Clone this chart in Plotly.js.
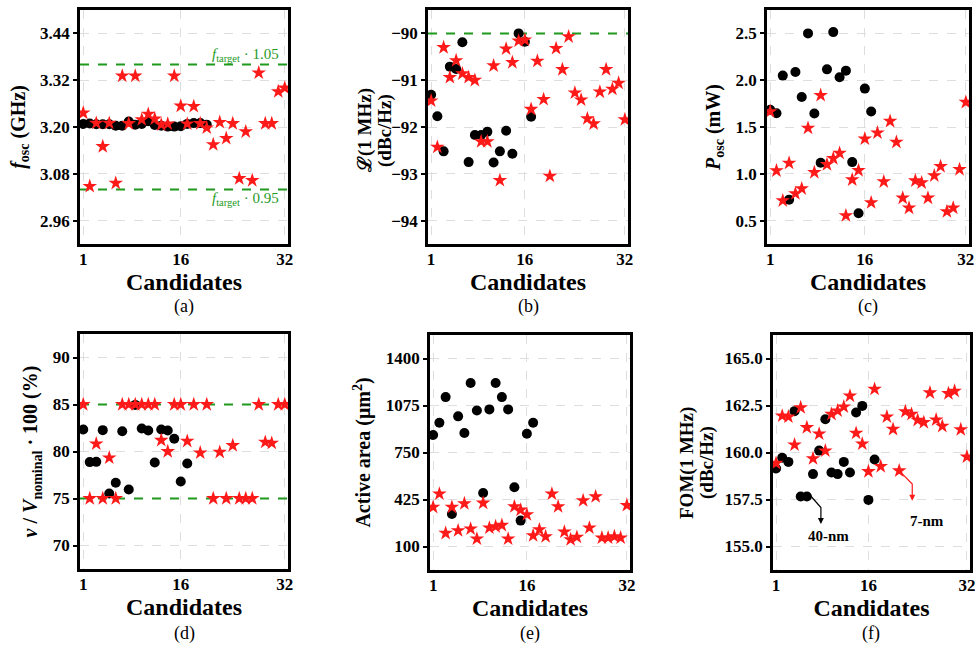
<!DOCTYPE html>
<html>
<head>
<meta charset="utf-8">
<script src="https://cdn.plot.ly/plotly-3.0.1.min.js"></script>
<style>html,body{margin:0;padding:0;background:#fff;}#chart{width:975px;height:645px;}</style>
</head>
<body>
<div id="chart"></div>
<script>
// ---- Data ----
const idx20 = [1,2,3,4,5,6,7,8,9,10,11,12,13,14,15,16,17,18,19,20];
const idx17 = [1,2,3,4,5,6,7,8,9,10,11,12,13,14,15,16,17];
const idx32 = [1,2,3,4,5,6,7,8,9,10,11,12,13,14,15,16,17,18,19,20,21,22,23,24,25,26,27,28,29,30,31,32];
const xTicks = [1,16,32];

const fTarget = 3.2;
const fLimits = [1.05, 0.95];
const fosc40 = [3.208,3.209,3.207,3.207,3.207,3.203,3.203,3.214,3.206,3.208,3.215,3.205,3.203,3.201,3.201,3.202,3.208,3.210,3.210,3.206];
const fosc7 = [3.236,3.048,3.210,3.150,3.210,3.056,3.331,3.209,3.331,3.219,3.233,3.221,3.206,3.208,3.331,3.254,3.208,3.253,3.209,3.198,3.155,3.212,3.171,3.209,3.068,3.188,3.063,3.339,3.209,3.209,3.291,3.300];

const pnLimit = -90;
const pn40 = [-91.31,-91.77,-92.52,-90.71,-90.76,-90.19,-92.75,-92.17,-92.17,-92.10,-92.76,-92.52,-92.08,-92.57,-90.00,-90.18,-91.78];
const pn7 = [-91.44,-92.43,-90.30,-90.94,-90.58,-90.86,-90.94,-91.00,-92.31,-92.31,-90.69,-93.14,-90.33,-90.62,-90.16,-90.14,-91.62,-90.59,-91.41,-93.05,-90.32,-90.77,-90.07,-91.27,-91.42,-91.82,-91.93,-91.25,-90.77,-91.19,-91.06,-91.84];

const posc40 = [1.683,1.647,2.049,0.724,2.088,1.821,2.500,1.644,1.118,2.116,2.514,2.031,2.102,1.125,0.578,1.910,1.665];
const posc7 = [1.665,1.033,0.713,1.115,0.788,0.841,1.488,1.015,1.839,1.100,1.164,1.221,0.553,0.937,1.036,1.374,0.692,1.438,0.916,1.562,1.338,0.742,0.635,0.926,0.905,0.742,0.980,1.079,0.596,0.635,1.047,1.765];

const swingLimits = [85, 75];
const swing40 = [82.34,78.87,78.90,82.27,75.53,76.67,82.16,75.96,84.96,82.45,82.23,78.83,82.34,82.23,81.35,76.81,78.72];
const swing7 = [85,75,80.82,75,79.33,75,85,85,85,85,85,85,81.2,80.0,85,85,81.1,85,79.86,85,75,79.93,75,80.64,75,75,75,85,81.0,80.89,85,85];

const area40 = [871,956,1133,325,1000,885,1230,1041,470,1048,1230,1133,1048,510,279,880,956];
const area7 = [372,464,192,372,210,397,222,153,401,229,238,247,153,376,353,321,176,217,169,464,376,201,148,165,418,229,445,160,160,169,160,385];

const fom40 = [159.15,159.72,159.50,162.20,157.66,157.66,158.85,160.10,161.77,158.94,158.85,159.50,158.94,162.13,162.48,157.48,159.63];
const fom7 = [159.43,161.95,161.90,160.41,162.39,161.33,159.68,160.99,160.09,162.04,162.22,162.43,163.01,161.03,160.46,158.99,163.37,159.26,161.90,161.24,159.03,162.18,162.04,161.72,161.60,163.18,161.74,161.40,163.14,163.27,161.22,159.77];

const yTicksA = [2.96,3.08,3.20,3.32,3.44];
const yTicksB = [-94,-93,-92,-91,-90];
const yTicksC = [0.5,1.0,1.5,2.0,2.5];
const yTicksD = [70,75,80,85,90];
const yTicksE = [100,425,750,1075,1400];
const yTicksF = [155.0,157.5,160.0,162.5,165.0];

// ---- Styling ----
const FONT = 'Liberation Serif, Times New Roman, serif';
const GREEN = '#1f9a1f';
const RED = '#ff1a1a';
const blackM = {color:'black', size:10, symbol:'circle'};
const redM = {color:RED, size:11, symbol:'star', line:{width:0}};

function pair(n, x40, y40, y7) {
  const xa = n === 1 ? 'x' : 'x' + n, ya = n === 1 ? 'y' : 'y' + n;
  return [
    {x:x40, y:y40, xaxis:xa, yaxis:ya, type:'scatter', mode:'markers', marker:blackM, showlegend:false},
    {x:idx32, y:y7, xaxis:xa, yaxis:ya, type:'scatter', mode:'markers', marker:redM, showlegend:false}
  ];
}
function hline(n, yval) {
  const xa = n === 1 ? 'x' : 'x' + n, ya = n === 1 ? 'y' : 'y' + n;
  return {x:[0.5,32.5], y:[yval,yval], xaxis:xa, yaxis:ya, type:'scatter', mode:'lines',
          line:{color:GREEN, width:2, dash:'dash'}, showlegend:false, hoverinfo:'skip'};
}
const data = [
  hline(1, fTarget*fLimits[0]), hline(1, fTarget*fLimits[1]),
  hline(2, pnLimit),
  hline(4, swingLimits[0]), hline(4, swingLimits[1])
].concat(
  pair(1, idx20, fosc40, fosc7),
  pair(2, idx17, pn40, pn7),
  pair(3, idx17, posc40, posc7),
  pair(4, idx17, swing40, swing7),
  pair(5, idx17, area40, area7),
  pair(6, idx17, fom40, fom7)
);

function xAx(domain, anchor) {
  return {
    domain:domain, anchor:anchor, range:[0.5,32.5], tickvals:xTicks,
    showline:true, mirror:true, linecolor:'black', linewidth:2.5,
    showgrid:true, gridcolor:'#dedede', griddash:'dash', gridwidth:1, zeroline:false,
    ticks:'', ticklabelstandoff:-2, ticklabeloverflow:'allow',
    tickfont:{family:FONT, size:17, color:'black', weight:'bold'},
    title:{text:'<b>Candidates</b>', font:{family:FONT, size:24, color:'black'}, standoff:0}
  };
}
function yAx(domain, anchor, range, tickvals, fmt, title, standoff) {
  const ax = {
    domain:domain, anchor:anchor, range:range, tickvals:tickvals, tickformat:fmt,
    showline:true, mirror:true, linecolor:'black', linewidth:2.5,
    showgrid:true, gridcolor:'#dedede', griddash:'dash', gridwidth:1, zeroline:false,
    ticks:'outside', ticklen:4, tickwidth:1.5, tickcolor:'black',
    tickfont:{family:FONT, size:17, color:'black', weight:'bold'}
  };
  if (title) ax.title = {text:title, font:{family:FONT, size:20, color:'black'}, standoff:standoff};
  return ax;
}
const W = 975, H = 645;
const px = (a,b) => [a/W, b/W];
const py = (top,bot) => [1-bot/H, 1-top/H];

function vtitle(xpx, ypx, text) {
  return {xref:'paper', yref:'paper', x:xpx/W, y:1-ypx/H, xanchor:'center', yanchor:'middle',
          textangle:-90, showarrow:false, text:text, font:{family:FONT, size:19, color:'black'}};
}
function label(xpx, ypx, text) {
  return {xref:'paper', yref:'paper', x:xpx/W, y:1-ypx/H, xanchor:'center', yanchor:'middle',
          showarrow:false, text:text, font:{family:FONT, size:18, color:'black'}};
}

const layout = {
  width:W, height:H, margin:{l:0,r:0,t:0,b:0},
  paper_bgcolor:'white', plot_bgcolor:'white', showlegend:false,
  font:{family:FONT, color:'black'},
  xaxis: xAx(px(80,288),'y'),
  yaxis: yAx(py(10,244),'x',[2.90,3.50],yTicksA,'.2f','<b><i>f</i><sub>osc</sub> (GHz)</b>',10),
  xaxis2: xAx(px(428,628),'y2'),
  yaxis2: yAx(py(10,244),'x2',[-94.5,-89.5],yTicksB,'d',null,8),
  xaxis3: xAx(px(767,969),'y3'),
  yaxis3: yAx(py(10,244),'x3',[0.25,2.75],yTicksC,'.1f','<b><i>P</i><sub>osc</sub> (mW)</b>',10),
  xaxis4: xAx(px(80,288),'y4'),
  yaxis4: yAx(py(334,569),'x4',[67.5,92.5],yTicksD,'d','<b><i>v</i> / <i>V</i><sub>nominal</sub> · 100 (%)</b>',10),
  xaxis5: xAx(px(430,630),'y5'),
  yaxis5: yAx(py(335,570),'x5',[-62.5,1562.5],yTicksE,'d','<b>Active area (μm<sup>2</sup>)</b>',10),
  xaxis6: xAx(px(773,970),'y6'),
  yaxis6: yAx(py(335,570),'x6',[153.75,166.25],yTicksF,'.1f',null,8),
  shapes: [
    {type:'path', xref:'x6', yref:'y6', path:'M 6.6,157.70 L 8.28,157.07 L 8.28,156.45', line:{color:'black', width:1.2}},
    {type:'path', xref:'x6', yref:'y6', path:'M 21.1,159.0 L 23.12,158.32 L 23.12,157.7', line:{color:RED, width:1.2}}
  ],
  annotations: [
    vtitle(365, 131, '<b>ℒ(1 MHz)</b>'),
    vtitle(385, 131, '<b>(dBc/Hz)</b>'),
    vtitle(687, 463, '<b>FOM(1 MHz)</b>'),
    vtitle(707, 463, '<b>(dBc/Hz)</b>'),
    {xref:'paper', yref:'paper', x:281/W, y:1-55/H, xanchor:'right', yanchor:'middle', showarrow:false,
     text:'<i>f</i><sub>target</sub> · 1.05', font:{family:FONT, size:15, color:GREEN}},
    {xref:'paper', yref:'paper', x:281/W, y:1-199/H, xanchor:'right', yanchor:'middle', showarrow:false,
     text:'<i>f</i><sub>target</sub> · 0.95', font:{family:FONT, size:15, color:GREEN}},
    {xref:'x6', yref:'y6', x:8.28, y:156.2, ax:8.28, ay:156.5, axref:'x6', ayref:'y6', text:'', showarrow:true,
     arrowhead:2, arrowsize:1, arrowwidth:1.2, arrowcolor:'black'},
    {xref:'x6', yref:'y6', x:23.12, y:157.43, ax:23.12, ay:157.75, axref:'x6', ayref:'y6', text:'', showarrow:true,
     arrowhead:2, arrowsize:1, arrowwidth:1.2, arrowcolor:RED},
    {xref:'x6', yref:'y6', x:9.5, y:155.57, showarrow:false, text:'<b>40-nm</b>', font:{family:FONT, size:15, color:'black'}},
    {xref:'x6', yref:'y6', x:25.5, y:156.37, showarrow:false, text:'<b>7-nm</b>', font:{family:FONT, size:15, color:'black'}},
    label(184, 306, '(a)'), label(528, 306, '(b)'), label(868, 306, '(c)'),
    label(184, 633, '(d)'), label(530, 633, '(e)'), label(871, 633, '(f)')
  ]
};

Plotly.newPlot('chart', data, layout, {displayModeBar:false});
</script>
</body>
</html>
